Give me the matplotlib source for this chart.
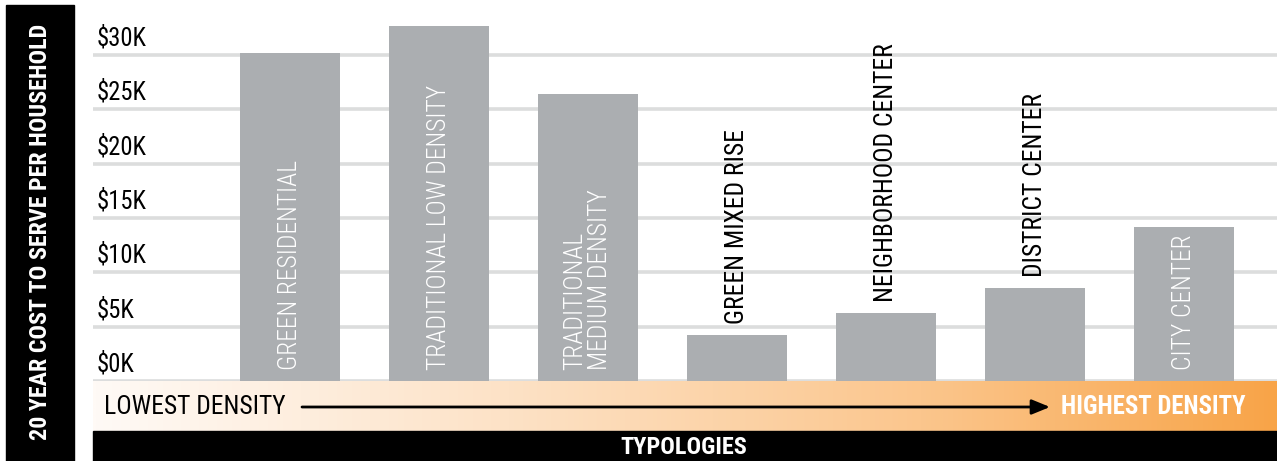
import matplotlib
matplotlib.use("Agg")
import matplotlib.pyplot as plt
import numpy as np
from matplotlib import font_manager
from matplotlib.colors import LinearSegmentedColormap
from matplotlib.patches import Rectangle

categories = ["GREEN RESIDENTIAL", "TRADITIONAL LOW DENSITY", "TRADITIONAL\nMEDIUM DENSITY",
              "GREEN MIXED RISE", "NEIGHBORHOOD CENTER", "DISTRICT CENTER", "CITY CENTER"]
values_k = [30.2, 32.7, 26.4, 4.2, 6.25, 8.55, 14.2]
tick_values = [0, 5, 10, 15, 20, 25, 30]
tick_labels = ["$0K", "$5K", "$10K", "$15K", "$20K", "$25K", "$30K"]
y_title = "20 YEAR COST TO SERVE PER HOUSEHOLD"
x_title = "TYPOLOGIES"
low_label = "LOWEST DENSITY"
high_label = "HIGHEST DENSITY"

W, H = 1277, 461

available = {f.name for f in font_manager.fontManager.ttflist}
STRETCH = "normal"
FONT = None
for cand in ["Roboto Condensed", "Liberation Sans Narrow", "Open Sans Condensed"]:
    if cand in available:
        FONT = [cand, "DejaVu Sans"]
        break
if FONT is None:
    FONT = ["DejaVu Sans"]
    STRETCH = "condensed"
plt.rcParams["font.family"] = FONT
plt.rcParams["font.stretch"] = STRETCH

fig = plt.figure(figsize=(W / 100, H / 100), dpi=100)
fig.patch.set_facecolor("white")
renderer = fig.canvas.get_renderer()


def fit(t, target_px, along="w"):
    for _ in range(3):
        bb = t.get_window_extent(renderer=renderer)
        size = bb.width if along == "w" else bb.height
        if size > 0:
            t.set_fontsize(t.get_fontsize() * target_px / size)
    return t.get_fontsize()


def px(x0, ytop, x1, ybot):
    return [x0 / W, 1 - ybot / H, (x1 - x0) / W, (ybot - ytop) / H]


# Main bar axes: x 93..1277, y 0..381 px
ax = fig.add_axes(px(93, 0, 1277, 381))
ax.set_xlim(-1.322, 6.624)
ax.set_ylim(0, 35.06)
ax.axis("off")

for v in tick_values:
    ax.axhline(v, color="#dcdddd", lw=2.6, zorder=1)
tick_texts = []
for v, lab in zip(tick_values, tick_labels):
    tick_texts.append(ax.text(0.0034, v + 0.4, lab, transform=ax.get_yaxis_transform(),
                              ha="left", va="bottom", fontsize=16, color="black", zorder=3))
fs_tick = fit(tick_texts[-1], 50)
for t in tick_texts:
    t.set_fontsize(fs_tick)

x = np.arange(len(categories))
ax.bar(x, values_k, width=0.671, color="#abaeb1", zorder=2)

bar_texts = []
for xi, v, lab in zip(x, values_k, categories):
    if v > 10:
        t = ax.text(xi, 1.0, lab, rotation=90, ha="center", va="bottom", color="white",
                    fontsize=16, zorder=4, linespacing=1.05, multialignment="left",
                    fontweight="light")
    else:
        t = ax.text(xi, v + 1.0, lab, rotation=90, ha="center", va="bottom", color="black",
                    fontsize=16, zorder=4)
    bar_texts.append(t)
fs_bar = fit(bar_texts[0], 210, along="h")
for t in bar_texts:
    t.set_fontsize(fs_bar)

# Gradient band
band = fig.add_axes(px(93, 381, 1277, 431))
cmap = LinearSegmentedColormap.from_list("dens", [(0, "#fffaf6"), (0.35, "#fde2c6"),
                                                   (0.7, "#fbc68d"), (1.0, "#f8a448")])
band.imshow(np.linspace(0, 1, 512)[None, :], aspect="auto", cmap=cmap,
            extent=[0, 1, 0, 1], origin="lower")
band.set_xlim(0, 1)
band.set_ylim(0, 1)
band.axis("off")
bw = 1277 - 93
tl = band.text((104 - 93) / bw, 0.48, low_label, ha="left", va="center", fontsize=17,
               color="black")
fit(tl, 183)
th = band.text((1061 - 93) / bw, 0.48, high_label, ha="left", va="center", fontsize=16,
               color="white", fontweight="bold")
fit(th, 183)
band.annotate("", xy=((1050 - 93) / bw, 0.48), xytext=((302 - 93) / bw, 0.48),
              arrowprops=dict(arrowstyle="-|>,head_length=1.1,head_width=0.45", lw=2,
                              color="black", shrinkA=0, shrinkB=0))

# Bottom black bar
fig.patches.append(Rectangle((93 / W, 0), (1277 - 93) / W, 30 / H, transform=fig.transFigure,
                             color="black", zorder=0))
tx = fig.text((620 + 747) / 2 / W, 14 / H, x_title, ha="center", va="center", color="white",
              fontsize=15, fontweight="bold")
fit(tx, 127)

# Left black bar with y title
fig.patches.append(Rectangle((6 / W, 0), (74 - 6) / W, (461 - 5) / H, transform=fig.transFigure,
                             color="black", zorder=0))
ty = fig.text(41 / W, 1 - 232 / H, y_title, rotation=90, ha="center", va="center", color="white",
              fontsize=16, fontweight="bold")
fit(ty, 416, along="h")

fig.savefig("out.png", dpi=100)
